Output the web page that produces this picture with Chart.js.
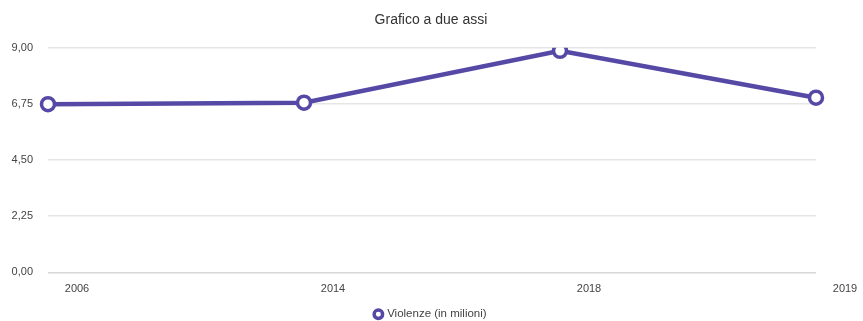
<!DOCTYPE html>
<html>
<head>
<meta charset="utf-8">
<script src="https://cdn.jsdelivr.net/npm/chart.js@4"></script>
<style>
  html, body { margin: 0; padding: 0; background: #fff; }
  #wrap { width: 863px; height: 321px; }
</style>
</head>
<body>
<div id="wrap"><canvas id="lineChart"></canvas></div>
<script>
// data
const years = ['2006', '2014', '2018', '2019'];
const violenze = [6.74, 6.8, 8.88, 7.0];
const yTicks = [0, 2.25, 4.5, 6.75, 9];

const purple = '#5549a5';

const ctx = document.getElementById('lineChart').getContext('2d');
new Chart(ctx, {
    type: 'line',
    data: {
        labels: years,
        datasets: [{
            label: 'Violenze (in milioni)',
            data: violenze,
            borderColor: purple,
            backgroundColor: '#ffffff',
            borderWidth: 4.5,
            pointRadius: 6.5,
            pointBorderWidth: 3.5,
            pointBackgroundColor: '#ffffff',
            pointBorderColor: purple,
            tension: 0
        }]
    },
    options: {
        responsive: true,
        maintainAspectRatio: false,
        animation: false,
        layout: { padding: { left: 10, right: 11, top: 4, bottom: -9 } },
        plugins: {
            title: {
                display: true,
                text: 'Grafico a due assi',
                color: '#333',
                font: { family: 'Liberation Sans', size: 14, weight: 'normal' },
                padding: { top: 8, bottom: 19 }
            },
            legend: {
                position: 'bottom',
                labels: {
                    usePointStyle: true,
                    pointStyle: 'circle',
                    boxWidth: 6,
                    boxHeight: 6,
                    color: '#444',
                    font: { family: 'Liberation Sans', size: 11.5 },
                    padding: 1
                }
            },
            tooltip: { enabled: false }
        },
        scales: {
            x: {
                offset: false,
                grid: { display: false },
                border: { display: false },
                afterFit: axis => { axis.height += 10; },
                ticks: {
                    color: '#444',
                    font: { family: 'Liberation Sans', size: 11 },
                    labelOffset: 29,
                    maxRotation: 0,
                    padding: 2
                }
            },
            y: {
                min: 0,
                max: 9,
                afterBuildTicks: axis => {
                    axis.ticks = yTicks.map(v => ({ value: v }));
                },
                afterFit: axis => { axis.width = 38; },
                grid: {
                    color: ctx => ctx.tick.value === 0 ? '#d6d6d6' : '#e6e6e6',
                    lineWidth: 1.5,
                    drawTicks: false
                },
                border: { display: false },
                ticks: {
                    color: '#444',
                    font: { family: 'Liberation Sans', size: 11 },
                    padding: 15,
                    callback: v => v.toFixed(2).replace('.', ',')
                }
            },
            // empty right-hand spacer so the last x label has room
            ySpace: {
                position: 'right',
                grid: { display: false },
                border: { display: false },
                ticks: { display: false },
                afterFit: axis => { axis.width = 36; }
            }
        }
    }
});
</script>
</body>
</html>
